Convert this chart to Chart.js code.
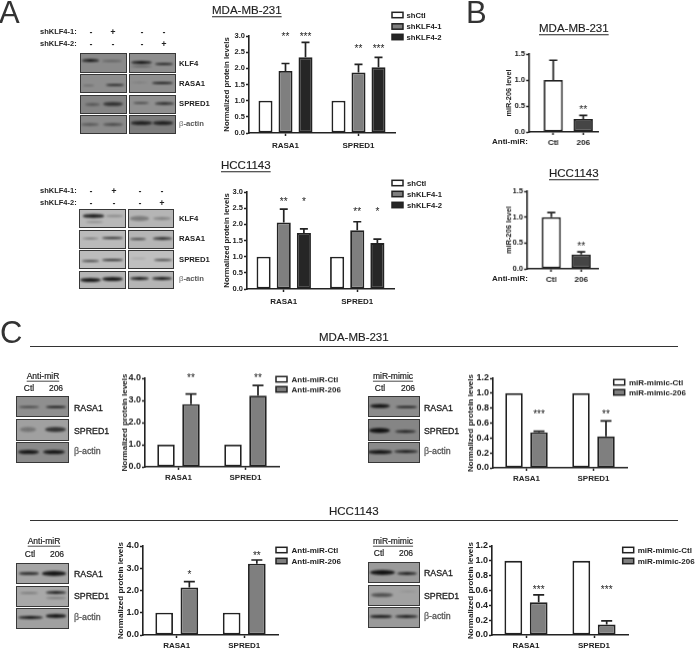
<!DOCTYPE html>
<html><head><meta charset="utf-8">
<script src="https://cdn.jsdelivr.net/npm/chart.js@4"></script>
<style>
html,body{margin:0;padding:0;background:#fff;width:696px;height:650px;overflow:hidden;font-family:"Liberation Sans",Arial,sans-serif;color:#222}
canvas{position:absolute;display:block}
.t{position:absolute;white-space:nowrap;transform:translateY(-50%);line-height:1;will-change:transform}
.blot{position:absolute;box-sizing:border-box;border:1.5px solid #383838;overflow:hidden}
.band{position:absolute;border-radius:50%;background:#101010;filter:blur(.9px)}
</style></head><body>
<script>
// ---------- data ----------
const proteins = ['RASA1','SPRED1'];
const seriesA = ['shCtl','shKLF4-1','shKLF4-2'];
const ctlPair = [1,1];

const aTopKd1 = [1.92,1.87], aTopKd1Top = [2.15,2.12], aTopKd1Stars = ['**','**'], aTopKd1StarY = [3.02,2.64];
const aTopKd2 = [2.34,2.03], aTopKd2Top = [2.80,2.34], aTopKd2Stars = ['***','***'], aTopKd2StarY = [3.02,2.64];

const aBotKd1 = [2.06,1.82], aBotKd1Top = [2.47,2.08], aBotKd1Stars = ['**','**'], aBotKd1StarY = [2.74,2.43];
const aBotKd2 = [1.73,1.42], aBotKd2Top = [1.86,1.54], aBotKd2Stars = ['*','*'], aBotKd2StarY = [2.74,2.43];

const bLabels = ['Ctl','206'];
const bTopVals = [1.0,0.25], bTopErr = [1.38,0.32], bTopStars = ['','**'], bTopStarY = [0,0.46];
const bBotVals = [1.0,0.28], bBotErr = [1.09,0.33], bBotStars = ['','**'], bBotStarY = [0,0.46];

const seriesAnti = ['Anti-miR-Ctl','Anti-miR-206'];
const seriesMimic = ['miR-mimic-Ctl','miR-mimic-206'];
const c1Vals = [2.83,3.22], c1Top = [3.29,3.68], c1Stars = ['**','**'], c1StarY = [4.07,4.07];
const c2Vals = [0.475,0.42], c2Top = [0.49,0.63], c2Stars = ['***','**'], c2StarY = [0.74,0.74];
const c3Vals = [2.14,3.2], c3Top = [2.40,3.37], c3Stars = ['*','**'], c3StarY = [2.77,3.64];
const c4Vals = [0.44,0.14], c4Top = [0.54,0.19], c4Stars = ['***','***'], c4StarY = [0.63,0.63];

// ---------- styling ----------
const FONT = '"Liberation Sans", Arial, sans-serif';
Chart.defaults.font.family = FONT;
Chart.defaults.color = '#222';
Chart.defaults.animation = false;
const INK = '#222222', WHITE = '#ffffff', GREY = '#7f7f7f', DARK = '#262626', SLATE = '#454545';

const annotate = {
  id:'annotate',
  afterDatasetsDraw(chart){
    const ctx = chart.ctx, yS = chart.scales.y, o = chart.options.plugins.annotate;
    chart.data.datasets.forEach((ds,i)=>{
      const els = chart.getDatasetMeta(i).data;
      els.forEach((el,j)=>{
        const top = ds.errTop && ds.errTop[j];
        if(top){
          const y = yS.getPixelForValue(top), y0 = yS.getPixelForValue(ds.rawVals[j]);
          ctx.save(); ctx.strokeStyle = INK; ctx.lineWidth = 1.7;
          ctx.beginPath(); ctx.moveTo(el.x,y0); ctx.lineTo(el.x,y);
          ctx.moveTo(el.x-o.cap/2,y); ctx.lineTo(el.x+o.cap/2,y); ctx.stroke(); ctx.restore();
        }
        const s = ds.stars && ds.stars[j];
        if(s){
          ctx.save(); ctx.fillStyle = INK; ctx.font = '10px '+FONT;
          ctx.textAlign='center'; ctx.textBaseline='middle';
          ctx.fillText(s, el.x, yS.getPixelForValue(ds.starY[j])+2); ctx.restore();
        }
      });
    });
    if(o.key){
      const left = chart.canvas.offsetLeft, tp = chart.canvas.offsetTop;
      chart.data.datasets.forEach((ds,i)=>{
        const y = o.key.ys[i]-tp, x = o.key.x-left;
        ctx.save(); ctx.fillStyle = ds.backgroundColor; ctx.strokeStyle = INK; ctx.lineWidth = 1.5;
        ctx.fillRect(x,y-2.7,o.key.w,5.4); ctx.strokeRect(x,y-2.7,o.key.w,5.4);
        ctx.fillStyle = INK; ctx.font = 'bold '+o.key.size+'px '+FONT;
        ctx.textAlign='left'; ctx.textBaseline='middle';
        ctx.fillText(ds.label, o.key.textX-left, y+.5); ctx.restore();
      });
    }
  }
};

function dsOf(label,vals,fill,top,stars,starY,cat,bar){
  return {label,data:vals,rawVals:vals,errTop:top,stars,starY,backgroundColor:fill,borderColor:INK,
    borderWidth:1.8,borderSkipped:false,categoryPercentage:cat,barPercentage:bar};
}

function makeChart(p){
  const padTop=p.padTop||30, padRight=p.padRight||70, padBottom=22;
  const c=document.createElement('canvas');
  const W=p.x1-p.x0+p.padLeft+padRight, H=p.yB-p.yT+padTop+padBottom;
  c.width=W;c.height=H;c.style.left=(p.x0-p.padLeft)+'px';c.style.top=(p.yT-padTop)+'px';
  c.style.width=W+'px';c.style.height=H+'px';
  document.body.appendChild(c);
  const xScale = p.xLinear ? {
      type:'linear',offset:false,min:p.xLinear[0],max:p.xLinear[1],
      afterBuildTicks:s=>{s.ticks=p.labels.map((_,i)=>({value:i+1}));},
      ticks:{callback:v=>p.labels[v-1],autoSkip:false,maxRotation:0,padding:p.xPad,font:{size:p.xSize||8,weight:'bold'},color:INK},
    } : {
      ticks:{autoSkip:false,maxRotation:0,padding:p.xPad,font:{size:p.xSize||8,weight:'bold'},color:INK}
    };
  xScale.grid={display:true,offset:false,drawOnChartArea:false,drawTicks:true,tickLength:3,tickWidth:1.5,tickColor:INK};
  xScale.border={display:true,width:1.6,color:INK};
  xScale.afterFit=s=>{s.height=padBottom;};
  new Chart(c,{
    type:'bar',
    data:{labels:p.xLinear?undefined:p.labels,datasets:p.datasets},
    options:{
      responsive:false,maintainAspectRatio:false,animation:false,devicePixelRatio:1,
      layout:{padding:{top:padTop,right:padRight,left:0,bottom:0}},
      plugins:{legend:{display:false},tooltip:{enabled:false},annotate:{cap:p.cap,key:p.key}},
      scales:{
        x:xScale,
        y:{min:0,max:p.yMax,
          ticks:{stepSize:p.step,padding:1,font:{size:p.yTick,weight:'bold'},color:INK,callback:v=>v.toFixed(1)},
          grid:{display:true,drawOnChartArea:false,drawTicks:true,tickLength:3,tickWidth:1.5,tickColor:INK},
          border:{display:true,width:1.6,color:INK},
          title:{display:true,text:p.yTitle,padding:0,font:{size:p.titleSize||8,weight:'bold',lineHeight:1},color:INK},
          afterFit:s=>{s.width=p.padLeft;}
        }
      }
    },
    plugins:[annotate]
  });
}

// ---------- panel A ----------
const catA=.822, barA=.7;
makeChart({x0:249,x1:395,yT:35.7,yB:133.3,padLeft:26,padRight:60,labels:proteins,yMax:3,step:.5,yTick:7.5,xPad:5,cap:8,
  yTitle:'Normalized protein levels',titleSize:7.8,
  key:{x:392,w:11,ys:[15,26.5,37],textX:406.5,size:7.7},
  datasets:[dsOf(seriesA[0],ctlPair,WHITE,null,null,null,catA,barA),
    dsOf(seriesA[1],aTopKd1,GREY,aTopKd1Top,aTopKd1Stars,aTopKd1StarY,catA,barA),
    dsOf(seriesA[2],aTopKd2,DARK,aTopKd2Top,aTopKd2Stars,aTopKd2StarY,catA,barA)]});
makeChart({x0:247,x1:394,yT:191.7,yB:289.3,padLeft:24,padRight:60,labels:proteins,yMax:3,step:.5,yTick:7.5,xPad:5,cap:8,
  yTitle:'Normalized protein levels',titleSize:7.8,
  key:{x:392,w:11,ys:[183,194,205],textX:407,size:7.7},
  datasets:[dsOf(seriesA[0],ctlPair,WHITE,null,null,null,catA,barA),
    dsOf(seriesA[1],aBotKd1,GREY,aBotKd1Top,aBotKd1Stars,aBotKd1StarY,catA,barA),
    dsOf(seriesA[2],aBotKd2,DARK,aBotKd2Top,aBotKd2Stars,aBotKd2StarY,catA,barA)]});

// ---------- panel B ----------
function bSet(vals,err,stars,starY){
  const pts=vals.map((v,i)=>({x:i+1,y:v}));
  const d=dsOf('miR-206',pts,WHITE,err,stars,starY,1,.64);
  d.rawVals=vals;
  d.backgroundColor=[WHITE,SLATE];
  return d;
}
makeChart({x0:529,x1:597.7,yT:54.3,yB:132.3,padLeft:24,padRight:10,labels:bLabels,yMax:1.5,step:.5,yTick:7.5,xPad:3,cap:8,
  xLinear:[.2,2.49],yTitle:'miR-206 level',titleSize:7.4,datasets:[bSet(bTopVals,bTopErr,bTopStars,bTopStarY)]});
makeChart({x0:527.3,x1:597.7,yT:191,yB:268.7,padLeft:22,padRight:10,labels:bLabels,yMax:1.5,step:.5,yTick:7.5,xPad:3,cap:8,
  xLinear:[.195,2.56],yTitle:'miR-206 level',titleSize:7.4,datasets:[bSet(bBotVals,bBotErr,bBotStars,bBotStarY)]});

// ---------- panel C ----------
const catC=.746, barC=.7;
function cSet(names,vals,top,stars,starY){
  return [dsOf(names[0],ctlPair,WHITE,null,null,null,catC,barC),
    dsOf(names[1],vals,GREY,top,stars,starY,catC,barC)];
}
makeChart({x0:145,x1:279,yT:378.3,yB:467,padLeft:24,padRight:70,labels:proteins,yMax:4,step:.5,yTick:9,xPad:3,cap:11,
  yTitle:'Normalized protein levels',key:{x:276,w:11,ys:[379,389],textX:291.5,size:8},
  datasets:cSet(seriesAnti,c1Vals,c1Top,c1Stars,c1StarY)});
makeChart({x0:493,x1:627,yT:378.3,yB:467.7,padLeft:26,padRight:69,labels:proteins,yMax:1.2,step:.2,yTick:9,xPad:3,cap:11,
  yTitle:'Normalized protein levels',key:{x:613.7,w:11,ys:[382,392],textX:629,size:8},
  datasets:cSet(seriesMimic,c2Vals,c2Top,c2Stars,c2StarY)});
makeChart({x0:143,x1:278,yT:546,yB:635,padLeft:26,padRight:70,labels:proteins,yMax:4,step:.5,yTick:9,xPad:3,cap:11,
  yTitle:'Normalized protein levels',key:{x:276,w:11,ys:[550,561],textX:291.5,size:8},
  datasets:cSet(seriesAnti,c3Vals,c3Top,c3Stars,c3StarY)});
makeChart({x0:491.7,x1:627.7,yT:546,yB:635.3,padLeft:25,padRight:69,labels:proteins,yMax:1.2,step:.2,yTick:9,xPad:3,cap:11,
  yTitle:'Normalized protein levels',key:{x:622.7,w:11,ys:[550,561],textX:637.7,size:8},
  datasets:cSet(seriesMimic,c4Vals,c4Top,c4Stars,c4StarY)});

// ---------- surrounding text ----------
function txt(x,y,s,o={}){
  const d=document.createElement('div');d.className='t';
  d.style.left=x+'px';d.style.top=y+'px';d.style.fontSize=(o.size||8)+'px';
  d.style.fontWeight=o.bold?'bold':'normal';
  if(o.color)d.style.color=o.color;
  if(o.u){d.style.textDecoration='underline';d.style.textUnderlineOffset='1.5px';}
  if(o.center)d.style.transform='translate(-50%,-50%)';
  if(o.heavy)d.style.webkitTextStroke=o.heavy+'px currentColor';
  d.innerHTML=s;document.body.appendChild(d);
}
txt(-1,12,'A',{size:31,color:'#333'});
txt(466,12,'B',{size:31,color:'#333'});
txt(0,332,'C',{size:31,color:'#333'});
txt(212,11,'MDA-MB-231',{size:11.5,u:1,heavy:.15});
txt(221,166,'HCC1143',{size:11.5,u:1,heavy:.15});
txt(539,29,'MDA-MB-231',{size:11.5,u:1,heavy:.15});
txt(549,174,'HCC1143',{size:11.5,u:1,heavy:.15});
txt(319,338,'MDA-MB-231',{size:11.5,heavy:.15});
txt(329,511.5,'HCC1143',{size:11.5,heavy:.15});
[[345.7],[519.7]].forEach(([y])=>{const l=document.createElement('div');
  l.style.cssText='position:absolute;left:30px;width:648px;height:1.2px;background:#333;top:'+y+'px';document.body.appendChild(l);});

txt(492,142,'Anti-miR:',{bold:1,size:8});
txt(492,279,'Anti-miR:',{bold:1,size:8});

txt(40,32,'shKLF4-1:',{bold:1,size:7.5});txt(40,44,'shKLF4-2:',{bold:1,size:7.5});
txt(40,191,'shKLF4-1:',{bold:1,size:7.5});txt(40,203,'shKLF4-2:',{bold:1,size:7.5});
[[91,'-',32],[113,'+',32],[142,'-',32],[164,'-',32],[91,'-',44],[113,'-',44],[142,'-',44],[164,'+',44],
 [91,'-',191],[114,'+',191],[140,'-',191],[162,'-',191],[91,'-',203],[114,'-',203],[140,'-',203],[162,'+',203]]
 .forEach(([x,s,y])=>txt(x,y,s,{bold:1,size:9,center:1}));

const beta='<span style="font-weight:normal;color:#666">&beta;</span><span style="color:#555">-actin</span>';
function rowLabels(x,ys,names,size,bold){names.forEach((n,i)=>txt(x,ys[i],n,{size,bold,heavy:bold?0:.3}));}
rowLabels(179,[63.5,84,104,124],['KLF4','RASA1','SPRED1',beta],7.7,1);
rowLabels(178.5,[218.5,239,260,279],['KLF4','RASA1','SPRED1',beta],7.7,1);
rowLabels(74,[407.5,430.5,451],['RASA1','SPRED1',beta],8.8,0);
rowLabels(424,[407.5,430.5,451],['RASA1','SPRED1',beta],8.8,0);
rowLabels(74,[573.5,596,617],['RASA1','SPRED1',beta],8.8,0);
rowLabels(424,[573,596,616],['RASA1','SPRED1',beta],8.8,0);

[[43,376,'Anti-miR',29,56,388],[393,376,'miR-mimic',380,408,388],[44,541,'Anti-miR',30,57,554],[393,541,'miR-mimic',379,406,553]]
 .forEach(([x,y,s,a,b,y2])=>{txt(x,y,s,{size:8.5,center:1,u:1,heavy:.2});txt(a,y2,'Ctl',{size:8.5,center:1,heavy:.2});txt(b,y2,'206',{size:8.5,center:1,heavy:.2});});

// ---------- blot images (3x crop coordinates) ----------
function blot(ox,oy,x0,x1,y0,y1,bg,bands){
  const b=document.createElement('div');b.className='blot';
  b.style.left=(ox+x0/3)+'px';b.style.top=(oy+y0/3)+'px';
  b.style.width=((x1-x0)/3)+'px';b.style.height=((y1-y0)/3)+'px';b.style.background=bg;
  bands.forEach(([a,e,y,t,al])=>{const d=document.createElement('div');d.className='band';
    d.style.left=((a-x0)/3-1.5)+'px';d.style.width=((e-a)/3)+'px';
    d.style.top=((y-y0-t/2)/3-1.5)+'px';d.style.height=(t/3)+'px';d.style.opacity=al;b.appendChild(d);});
  document.body.appendChild(b);
}
blot(0,0,240,380,160,218,'#8a8a8a',[[247,298,184,8,.95],[308,368,185,6,.35]]);
blot(0,0,387,527,160,218,'#8e8e8e',[[393,458,190,10,.98],[395,458,201,5,.6],[465,520,193,7,.9]]);
blot(0,0,240,380,222,280,'#8d8d8d',[[250,285,258,4,.45],[318,372,256,7,.85]]);
blot(0,0,387,527,222,280,'#8f8f8f',[[395,445,248,3,.25],[458,522,250,7,.95]]);
blot(0,0,240,380,285,342,'#858585',[[255,300,314,9,.4],[310,372,313,13,.7]]);
blot(0,0,387,527,285,342,'#909090',[[400,450,310,6,.55],[465,522,312,8,.75]]);
blot(0,0,240,380,345,402,'#8a8a8a',[[245,300,374,9,.4],[310,372,376,10,.5]]);
blot(0,0,387,527,345,402,'#7c7c7c',[[395,458,370,11,.85],[460,522,370,11,.85]]);

blot(0,0,238,377,628,685,'#b8b8b8',[[250,315,650,10,.9],[260,310,668,6,.25],[320,370,650,5,.3]]);
blot(0,0,385,523,628,685,'#b5b5b5',[[392,448,658,14,.35],[460,515,658,10,.3]]);
blot(0,0,238,377,690,746,'#bababa',[[248,300,716,4,.7],[308,370,716,6,.85]]);
blot(0,0,385,523,690,746,'#b5b5b5',[[392,440,717,6,.7],[462,518,717,8,.8]]);
blot(0,0,238,377,750,808,'#bcbcbc',[[248,300,784,5,.7],[308,370,782,7,.85]]);
blot(0,0,385,523,750,808,'#bfbfbf',[[395,440,778,4,.2],[465,518,780,6,.7]]);
blot(0,0,238,377,813,868,'#b5b5b5',[[240,305,840,12,.95],[308,372,838,12,.95]]);
blot(0,0,385,523,813,868,'#b5b5b5',[[392,450,838,10,.95],[458,518,838,10,.95]]);

blot(0,320,48,207,228,292,'#8f8f8f',[[58,118,263,5,.6],[138,200,262,8,.95]]);
blot(0,320,48,207,298,362,'#a0a0a0',[[60,110,330,14,.3],[135,200,330,16,.75]]);
blot(0,320,48,207,367,430,'#8a8a8a',[[55,118,398,13,.95],[130,198,398,13,.95]]);
blot(346,320,65,222,228,292,'#8b8b8b',[[75,135,258,12,.95],[152,215,262,8,.9]]);
blot(346,320,65,222,298,362,'#858585',[[72,135,334,16,.98],[150,212,336,9,.8]]);
blot(346,320,65,222,367,430,'#8a8a8a',[[68,140,398,11,.95],[145,218,397,9,.9]]);

blot(0,490,48,207,218,282,'#a5a5a5',[[58,118,252,7,.8],[128,200,253,14,.95]]);
blot(0,490,48,207,287,350,'#a8a8a8',[[60,115,310,7,.3],[138,198,309,8,.9],[138,198,327,6,.3]]);
blot(0,490,48,207,355,417,'#a0a0a0',[[55,130,384,10,.95],[138,200,380,10,.95]]);
blot(346,490,65,222,217,280,'#9a9a9a',[[75,148,250,15,.98],[155,215,251,9,.9]]);
blot(346,490,65,222,286,348,'#a2a2a2',[[78,142,316,12,.55],[160,215,307,3,.2]]);
blot(346,490,65,222,352,415,'#9a9a9a',[[75,140,381,7,.9],[150,218,381,9,.9]]);
</script>
</body></html>
